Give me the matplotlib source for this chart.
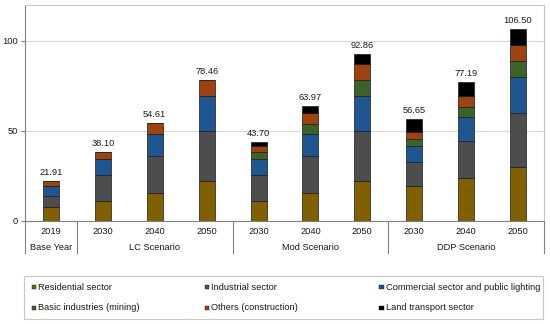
import matplotlib
matplotlib.use("Agg")
import matplotlib.pyplot as plt
import matplotlib.transforms as mtransforms
from matplotlib.patches import Rectangle
import numpy as np

plt.rcParams["font.family"] = ["Liberation Sans", "DejaVu Sans"]
plt.rcParams["font.size"] = 6.7

years = ["2019", "2030", "2040", "2050", "2030", "2040", "2050", "2030", "2040", "2050"]
groups = ["Base Year", "LC Scenario", "Mod Scenario", "DDP Scenario"]
group_sizes = [1, 3, 3, 3]

sectors = ["Residential sector", "Industrial sector",
           "Commercial sector and public lighting", "Basic industries (mining)",
           "Others (construction)", "Land transport sector"]
colors = ["#806000", "#4d4d4d", "#1f5692", "#3b6327", "#9e4310", "#000000"]

residential = [7.4, 11.2, 15.6, 22.2, 11.2, 15.6, 22.2, 19.4, 23.8, 29.6]
industrial = [6.5, 14.5, 20.2, 27.7, 14.5, 20.3, 27.9, 13.4, 20.3, 30.2]
commercial = [5.5, 8.4, 12.4, 19.2, 8.4, 12.3, 19.0, 8.7, 13.4, 19.9]
basic = [0, 0, 0, 0, 3.9, 5.8, 8.9, 3.9, 5.8, 9.1]
others = [2.51, 4.0, 6.41, 9.36, 3.7, 6.1, 9.2, 3.9, 6.2, 8.8]
transport = [0, 0, 0, 0, 2.0, 3.87, 5.66, 7.35, 7.69, 8.9]

series = [residential, industrial, commercial, basic, others, transport]

W, H = 550, 324
fig = plt.figure(figsize=(W / 100, H / 100), dpi=100)
ax = fig.add_axes([25 / W, 1 - 220.7 / H, 519 / W, 215.7 / H])


def fx(px):
    return px / W


def fy(py):
    return 1 - py / H


x = np.arange(len(years))
bottom = np.zeros(len(years))
for vals, name, c in zip(series, sectors, colors):
    vals = np.array(vals, dtype=float)
    ax.bar(x, vals, 0.31, bottom=bottom, color=c, edgecolor="#1a1a1a",
           linewidth=0.5, label=name, zorder=3)
    bottom += vals

for xi, tot in zip(x, bottom):
    ax.annotate(f"{tot:.2f}", (xi, tot), xytext=(0, 6), textcoords="offset points",
                ha="center", va="center", color="#1a1a1a")

ax.set_xlim(-0.5, len(years) - 0.5)
ax.set_ylim(0, 120)
ax.set_yticks([0, 50, 100])
ax.set_xticks([])
ax.grid(axis="y", color="#d9d9d9", linewidth=0.8, zorder=0)
ax.tick_params(axis="y", length=3, width=0.8, color="#808080", pad=2, labelcolor="#1a1a1a")
for s in ["top", "right"]:
    ax.spines[s].set_color("#c8c8c8")
    ax.spines[s].set_linewidth(0.8)
for s in ["left", "bottom"]:
    ax.spines[s].set_color("#808080")
    ax.spines[s].set_linewidth(0.8)

# category axis below the plot
tr = mtransforms.blended_transform_factory(ax.transData, fig.transFigure)
for xi, yr in zip(x, years):
    ax.text(xi, fy(232), yr, transform=tr, ha="center", va="center", color="#1a1a1a")
start = 0
seps = [-0.5]
for g, n in zip(groups, group_sizes):
    ax.text(start + (n - 1) / 2, fy(248), g, transform=tr, ha="center",
            va="center", color="#1a1a1a")
    start += n
    seps.append(start - 0.5)
for s in seps:
    ax.plot([s, s], [fy(220.7), fy(253)], transform=tr, color="#808080",
            linewidth=0.8, clip_on=False)

# legend box laid out like the original (equal column spacing)
fig.patches.append(Rectangle((fx(23.5), fy(319)), fx(543) - fx(23.5), fy(276) - fy(319),
                             transform=fig.transFigure, facecolor="white",
                             edgecolor="#c8c8c8", linewidth=0.8))
col_x = [31.5, 204.5, 379]
row_y = [287, 308]
for i, (name, c) in enumerate(zip(sectors, colors)):
    cx = col_x[i % 3]
    ry = row_y[i // 3]
    fig.patches.append(Rectangle((fx(cx), fy(ry + 2.3)), 4.6 / W, 4.6 / H,
                                 transform=fig.transFigure, facecolor=c,
                                 edgecolor="#1a1a1a", linewidth=0.3))
    fig.text(fx(cx + 6.5), fy(ry), name, ha="left", va="center", color="#1a1a1a")

fig.savefig("out.png", dpi=100)
